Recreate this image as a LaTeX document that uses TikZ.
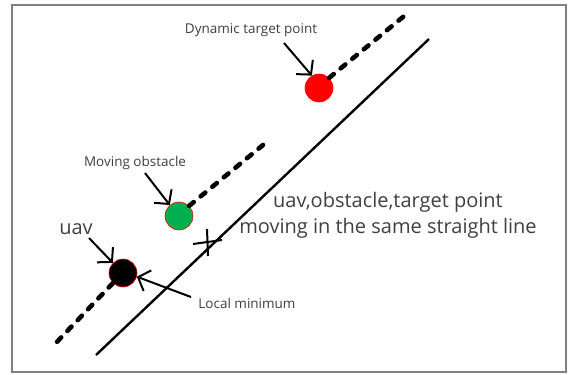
\documentclass[tikz,border=0pt]{standalone}
\usepackage{fontspec}
\setmainfont{Open Sans}
\usetikzlibrary{arrows.meta}
\definecolor{offgreen}{RGB}{0,176,80}
\definecolor{txt}{RGB}{64,64,64}
\begin{document}
\begin{tikzpicture}[x=1pt,y=-1pt,
  dashline/.style={line width=4.6pt,dash pattern=on 6pt off 9pt,line cap=round},
  pointer/.style={line width=2pt,-{Straight Barb[length=10pt,width=22pt,line width=2pt]}},
  dot/.style={circle,minimum size=28pt,inner sep=0pt,draw=red,line width=0.6pt},
  small/.style={text=txt,font=\fontsize{13.5}{15}\selectfont,inner sep=0pt},
  big/.style={text=txt,font=\fontsize{20}{26}\selectfont,inner sep=0pt,align=center}]
\useasboundingbox (0,0) rectangle (569,374);
\draw[gray,line width=1.2pt] (12,5) rectangle (566,372);
% solid line
\coordinate (s1) at (96,355);
\coordinate (s2) at (429,39);
\draw[line width=2.4pt] (s1) -- (s2);
% dots
\node[dot,fill=red] (tgt) at (319,88) {};
\node[dot,fill=offgreen] (obs) at (179,216) {};
\node[dot,fill=black] (uav) at (123,273) {};
% dashed lines
\coordinate (d1) at (409,12);
\coordinate (d2) at (263,145);
\coordinate (d3) at (54,345);
\draw[dashline] (tgt.45) -- (d1);
\draw[dashline] (obs.45) -- (d2);
\draw[dashline] (uav.225) -- (d3);
% labels
\node[small] (lt) at (251,30) {Dynamic target point};
\node[small] (lo) at (135,163) {Moving obstacle};
\node[small] (ll) at (247,303) {Local minimum};
\node[text=txt,font=\fontsize{20}{22}\selectfont,inner sep=0pt] (lu) at (76,229) {uav};
\node[big] (lm) at (388,215) {uav,obstacle,target point\\moving in the same straight line};
% arrows
\coordinate (a1) at (284,43);
\coordinate (a2) at (145,173);
\coordinate (a3) at (89,238);
\coordinate (a4) at (191,297);
\draw[pointer] (a1) -- (tgt.120);
\draw[pointer] (a2) -- (obs.130);
\draw[pointer] (a3) -- (uav.135);
\draw[pointer] (a4) -- (uav.-15);
% cross mark on solid line
\coordinate (xm) at (207,242);
\draw[line width=2pt] (207,229) -- (208,256);
\draw[line width=2pt] (193,244) -- (222,240);
\end{tikzpicture}
\end{document}
